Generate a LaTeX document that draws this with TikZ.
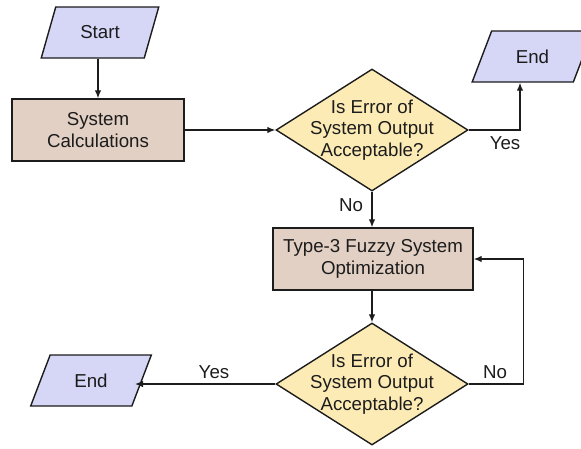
\documentclass[tikz,border=0pt]{standalone}
\usepackage{fontspec}
\setmainfont{Liberation Sans}
\usetikzlibrary{shapes.geometric,arrows.meta,calc}

\definecolor{ioFill}{HTML}{D6D6F6}
\definecolor{procFill}{HTML}{E2D0C4}
\definecolor{decFill}{HTML}{FDEBB6}
\definecolor{ink}{HTML}{1C1C1C}

\tikzset{
  base/.style={draw=ink, line width=1.4pt, inner sep=0pt,
    font=\fontsize{18.7}{21.5}\selectfont, text=ink, align=center},
  iobox/.style={base, trapezium, trapezium stretches=true,
    trapezium left angle=60, trapezium right angle=120,
    fill=ioFill, minimum width=121pt, minimum height=51pt},
  procbox/.style={base, rectangle, fill=procFill, minimum height=62pt},
  decbox/.style={base, diamond, fill=decFill,
    minimum width=192pt, minimum height=122pt},
  flow/.style={draw=ink, line width=1.3pt,
    -{Latex[length=8pt,width=6.5pt]}},
  lbl/.style={font=\fontsize{18.7}{21.5}\selectfont, text=ink, inner sep=0pt}
}

\begin{document}
\begin{tikzpicture}[x=1pt,y=-1pt]
  \useasboundingbox (0,0) rectangle (581,448);
  \clip (0,0) rectangle (581,448);

  % shapes
  \node[iobox, trapezium left angle=64, trapezium right angle=116,
        minimum width=118pt] (start) at (100,32.5) {Start};
  \node[procbox, minimum width=172pt] (calc) at (98,130) {System\\Calculations};
  \node[decbox, label={[base, draw=none, fill=none]center:Is Error of\\System Output\\Acceptable?}]
        (dec1) at (372,130) {};
  \node[iobox] (end1) at (532.5,56.5) {End};
  \node[procbox, minimum width=200pt] (opt) at (373,259) {Type-3 Fuzzy System\\Optimization};
  \node[decbox, label={[base, draw=none, fill=none]center:Is Error of\\System Output\\Acceptable?}]
        (dec2) at (372,384) {};
  \node[iobox] (end2) at (91,380.5) {End};

  % entry points on the slanted end boxes
  \coordinate (end1in) at ($(end1.south)+(-12.5,0)$);
  \coordinate (end2in) at ($(end2.center)+(44,0)$);

  % connectors
  \draw[flow] (calc.north |- start.south) -- (calc.north);
  \draw[flow] (calc.east) -- (dec1.west);
  \draw[flow] (dec1.east) -| (end1in);
  \draw[flow] (dec1.south) -- (opt.north -| dec1.south);
  \draw[flow] (opt.south -| dec2.north) -- (dec2.north);
  \draw[flow] (dec2.east) -- ++(55,0) coordinate (back) |- (opt.east);
  \draw[flow] (dec2.west) -- (dec2.west -| end2in);

  % branch labels
  \node[lbl] (yes1) at (505,143) {Yes};
  \node[lbl] (no1) at (351,205) {No};
  \node[lbl] (no2) at (495,372) {No};
  \node[lbl] (yes2) at (214,372) {Yes};
\end{tikzpicture}
\end{document}
